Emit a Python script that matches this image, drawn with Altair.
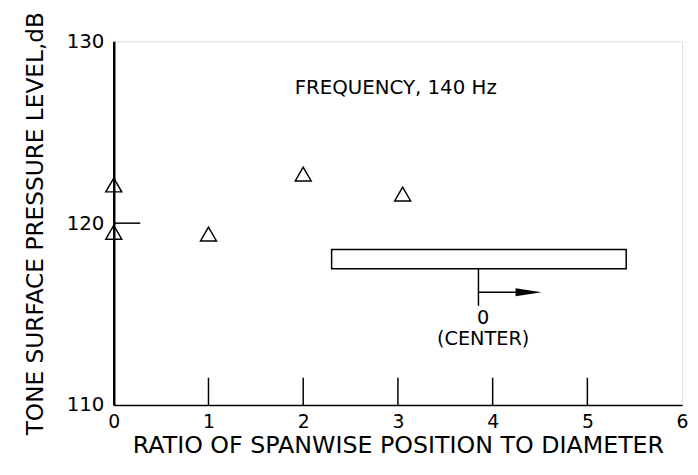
import altair as alt
import pandas as pd

# Measured data points
pos = [0.0, 0.0, 1.0, 2.0, 3.05]
spl = [122.1, 119.5, 119.4, 122.7, 121.6]

# Inward tick marks
xticks = [1, 2, 3, 4, 5]
ytick_vals = [120]

# Inset (cylinder sketch)
rect_x, rect_x2, rect_y, rect_y2 = [2.30], [5.41], [118.55], [117.5]
center_x = [3.85]
center_y, center_y2 = [117.5], [115.45]
arrow_x, arrow_x2, arrow_y = [3.85], [4.3], [116.2]
arrow_head_x = [4.38]

FONT = "DejaVu Sans"

pts = pd.DataFrame({"x": pos, "y": spl})

xsc = alt.Scale(domain=[0, 6], nice=False, zero=False)
ysc = alt.Scale(domain=[110, 130], nice=False, zero=False)

base_x = alt.X("x:Q", scale=xsc,
               axis=alt.Axis(title="RATIO OF SPANWISE POSITION TO DIAMETER",
                             values=[0, 1, 2, 3, 4, 5, 6], format="d", tickSize=0, grid=False,
                             labelFlush=False, labelOverlap=False,
                             labelFontSize=19, labelPadding=8, labelFont=FONT,
                             titleFont=FONT, titleFontSize=24, titleFontWeight="normal",
                             titlePadding=2, domainColor="black", domainWidth=1.5,
                             labelColor="black", titleColor="black"))
base_y = alt.Y("y:Q", scale=ysc,
               axis=alt.Axis(title="TONE SURFACE PRESSURE LEVEL,dB",
                             values=[110, 120, 130], format="d", tickSize=0, grid=False,
                             labelFlush=False, labelOverlap=False,
                             labelFontSize=20, labelPadding=10, labelFont=FONT,
                             titleFont=FONT, titleFontSize=23.5, titleFontWeight="normal",
                             titlePadding=19, domainColor="black", domainWidth=2.5,
                             labelColor="black", titleColor="black"))

points = alt.Chart(pts).mark_point(shape="triangle-up", size=260, filled=False,
                                   color="black", strokeWidth=1.5, opacity=1).encode(
    x=base_x, y=base_y)

xt = alt.Chart(pd.DataFrame({"x": xticks, "y": [110] * len(xticks), "y2": [111.5] * len(xticks)})).mark_rule(
    color="black", strokeWidth=1.5).encode(x="x:Q", y="y:Q", y2="y2:Q")

yt = alt.Chart(pd.DataFrame({"x": [0] * len(ytick_vals), "x2": [0.28] * len(ytick_vals), "y": ytick_vals})).mark_rule(
    color="black", strokeWidth=1.5).encode(x="x:Q", x2="x2:Q", y="y:Q")

rect = alt.Chart(pd.DataFrame({"x": rect_x, "x2": rect_x2, "y": rect_y, "y2": rect_y2})).mark_rect(
    fill="white", stroke="black", strokeWidth=1.5).encode(x="x:Q", x2="x2:Q", y="y:Q", y2="y2:Q")

cline = alt.Chart(pd.DataFrame({"x": center_x, "y": center_y, "y2": center_y2})).mark_rule(
    color="black", strokeWidth=1.5).encode(x="x:Q", y="y:Q", y2="y2:Q")

arrow = alt.Chart(pd.DataFrame({"x": arrow_x, "x2": arrow_x2, "y": arrow_y})).mark_rule(
    color="black", strokeWidth=1.5).encode(x="x:Q", x2="x2:Q", y="y:Q")

head = alt.Chart(pd.DataFrame({"x": arrow_head_x, "y": arrow_y})).mark_point(
    shape="M -1 -0.3 L 1 0 L -1 0.3 Z", size=700, filled=True, color="black", opacity=1).encode(
    x="x:Q", y="y:Q")

freq_df = pd.DataFrame({"x": [1.91], "y": [127.45], "t": ["FREQUENCY, 140 Hz"]})
ctr_df = pd.DataFrame({"x": [3.9, 3.9], "y": [114.8, 113.6], "t": ["0", "(CENTER)"]})

freq = alt.Chart(freq_df).mark_text(align="left", baseline="middle", fontSize=20,
                                    font=FONT, color="black").encode(
    x="x:Q", y="y:Q", text="t:N")
ctr = alt.Chart(ctr_df).mark_text(align="center", baseline="middle", fontSize=19.5,
                                  font=FONT, color="black").encode(
    x="x:Q", y="y:Q", text="t:N")

chart = alt.layer(points, xt, yt, rect, cline, arrow, head, freq, ctr).properties(
    width=575, height=368,
    autosize=alt.AutoSizeParams(type="none"),
    padding={"left": 107, "top": 31, "right": 8, "bottom": 60},
).configure_view(stroke="black", strokeWidth=1.2).configure(background="white")

chart.save("out.html", embed_options={"renderer": "svg", "actions": False})
